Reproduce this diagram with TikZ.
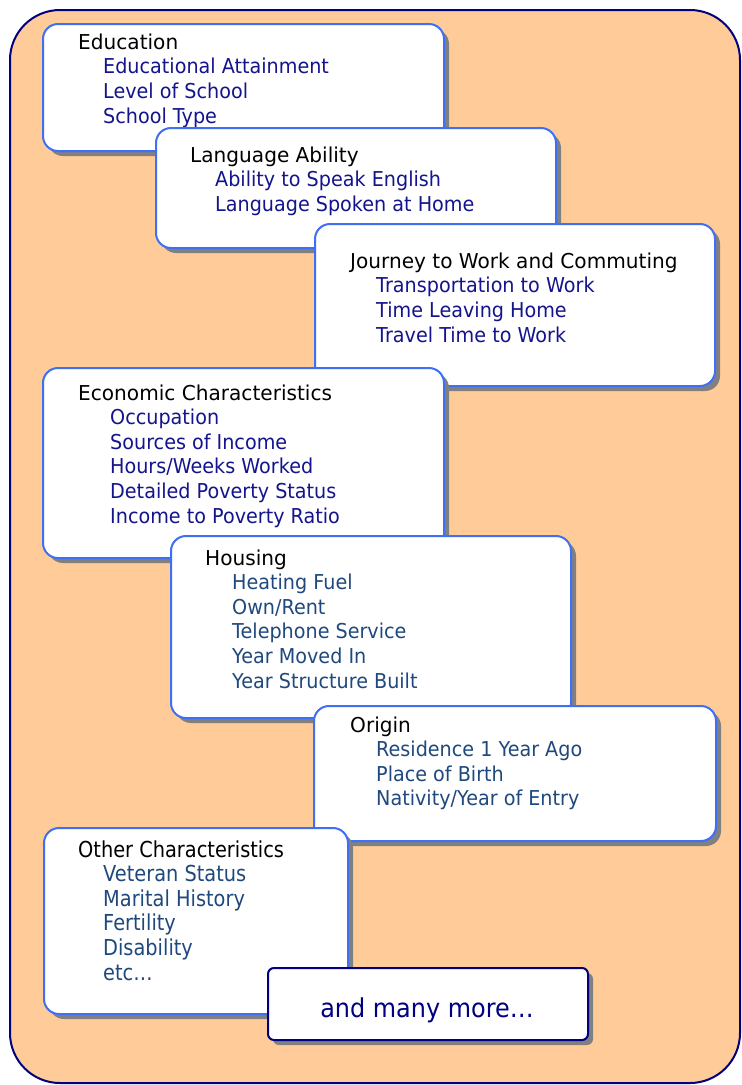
\documentclass[tikz,border=0pt]{standalone}
\usepackage{fontspec}
\setmainfont[FakeStretch=0.98]{DejaVu Sans}
\newfontfamily\itemfont[FakeStretch=0.935]{DejaVu Sans}
\newfontfamily\narrowfont[FakeStretch=0.88]{DejaVu Sans}
\newfontfamily\morefont[FakeStretch=0.92]{DejaVu Sans}
\usepackage{tikz}
\usetikzlibrary{shadows}
\usepackage{color}

\definecolor{peach}{HTML}{FFCC99}
\definecolor{framenavy}{HTML}{000080}
\definecolor{boxblue}{HTML}{3F6FF5}
\definecolor{itemnavy}{HTML}{14148C}
\definecolor{itemsteel}{HTML}{1F497D}

\tikzset{
  topic/.style={draw=boxblue, line width=2pt, fill=white, rounded corners=15pt,
    anchor=north west, inner sep=0pt,
    drop shadow={shadow xshift=5pt, shadow yshift=-5pt, fill=gray, opacity=1}},
  heading/.style={anchor=base west, inner sep=0pt, text=black, font=\fontsize{20.5}{24}\selectfont},
  item/.style={anchor=base west, inner sep=0pt, text=itemnavy, font=\itemfont\fontsize{20.5}{24}\selectfont},
  item2/.style={item, text=itemsteel}
}

\begin{document}
\begin{tikzpicture}[x=1pt, y=-1pt]
    % the page and the big frame
    \fill[white] (0,0) rectangle (742,1085);
    \useasboundingbox (0,0) rectangle (742,1085);
    \filldraw[fill=peach, draw=framenavy, line width=2pt, rounded corners=50pt] (10,10) rectangle (740,1083);

    % education
    \node[topic, minimum width=401pt, minimum height=127pt] (edu) at (42,23) {};
    \node[heading] (edu-t) at (78,49) {Education};
    \foreach \t [count=\i] in {Educational Attainment, Level of School, School Type}
        \node[item] (edu-\i) at (103,49+24.8*\i) {\t};

    % language
    \node[topic, minimum width=400pt, minimum height=120pt] (lang) at (155,127) {};
    \node[heading] (lang-t) at (190,162) {Language Ability};
    \foreach \t [count=\i] in {Ability to Speak English, Language Spoken at Home}
        \node[item] (lang-\i) at (215,162+24.8*\i) {\t};

    % journey to work
    \node[topic, minimum width=400pt, minimum height=162pt] (jour) at (314,223) {};
    \node[heading] (jour-t) at (350,268) {Journey to Work and Commuting};
    \foreach \t [count=\i] in {Transportation to Work, Time Leaving Home, Travel Time to Work}
        \node[item] (jour-\i) at (376,268+24.8*\i) {\t};

    % economic
    \node[topic, minimum width=401pt, minimum height=190pt] (econ) at (42,367) {};
    \node[heading] (econ-t) at (78,400) {Economic Characteristics};
    \foreach \t [count=\i] in {Occupation, Sources of Income, Hours/Weeks Worked,
        Detailed Poverty Status, Income to Poverty Ratio}
        \node[item] (econ-\i) at (110,400+24.6*\i) {\t};

    % housing
    \node[topic, minimum width=400pt, minimum height=182pt] (hous) at (170,535) {};
    \node[heading] (hous-t) at (205,565) {Housing};
    \foreach \t [count=\i] in {Heating Fuel, Own/Rent, Telephone Service,
        Year Moved In, Year Structure Built}
        \node[item2] (hous-\i) at (232,565+24.6*\i) {\t};

    % origin
    \node[topic, minimum width=402pt, minimum height=135pt] (orig) at (313,705) {};
    \node[heading] (orig-t) at (350,732) {Origin};
    \foreach \t [count=\i] in {Residence 1 Year Ago, Place of Birth, Nativity/Year of Entry}
        \node[item2] (orig-\i) at (376,732+24.6*\i) {\t};

    % other
    \node[topic, minimum width=304pt, minimum height=186pt] (other) at (43,827) {};
    \node[heading, font=\narrowfont\fontsize{22}{26}\selectfont] (other-t) at (78,857) {Other Characteristics};
    \foreach \t [count=\i] in {Veteran Status, Marital History, Fertility, Disability, etc…}
        \node[item2, font=\narrowfont\fontsize{22}{26}\selectfont] (other-\i) at (103,857+24.6*\i) {\t};

    % and many more
    \node[topic, draw=framenavy, rounded corners=6pt, minimum width=320pt, minimum height=72pt] (more) at (267,967) {};
    \node[anchor=base, inner sep=0pt, text=framenavy, font=\morefont\fontsize{26}{30}\selectfont] (more-t) at (427,1017) {and many more…};
\end{tikzpicture}
\end{document}
